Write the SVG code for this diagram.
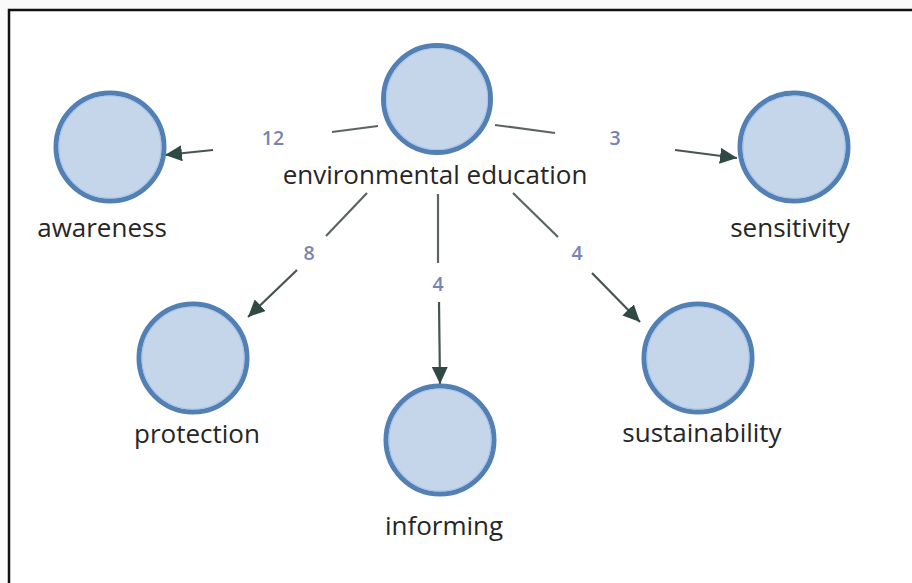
<svg xmlns="http://www.w3.org/2000/svg" width="912" height="583" viewBox="0 0 912 583">
<defs>
<style>
.node{fill:#c6d6ea;stroke:#5380b4;stroke-width:5}
.inner{fill:none;stroke:#a9c6e8;stroke-width:1.2}
.lbl{font-family:"Open Sans","Liberation Sans",sans-serif;font-size:26px;fill:#262626;text-anchor:middle}
.num{font-family:"Open Sans","Liberation Sans",sans-serif;font-size:19.5px;font-weight:600;fill:#7683b5;text-anchor:middle}
.edge{stroke:#5d6363;stroke-width:2.2;fill:none}
.arr{stroke:#4a5352;stroke-width:2.2;fill:none;marker-end:url(#ah)}
</style>
<marker id="ah" markerUnits="userSpaceOnUse" markerWidth="20" markerHeight="16" refX="17" refY="8" orient="auto">
<path d="M0,0 L17,8 L0,16 Z" fill="#2f4a44"/>
</marker>
</defs>
<rect x="0" y="0" width="912" height="583" fill="#fafafa"/>
<rect x="9" y="10" width="920" height="600" fill="#ffffff" stroke="#111111" stroke-width="2.5"/>
<g id="connectors">
<line class="edge" x1="378" y1="126" x2="332" y2="132"/>
<line class="arr" x1="213" y1="150" x2="165" y2="155"/>
<text class="num" x="273" y="145">12</text>
<line class="edge" x1="495" y1="125" x2="555" y2="133"/>
<line class="arr" x1="675" y1="150" x2="737" y2="158"/>
<text class="num" x="615" y="145">3</text>
<line class="edge" x1="367" y1="193" x2="326" y2="236"/>
<line class="arr" x1="297" y1="270" x2="248" y2="317"/>
<text class="num" x="309" y="260">8</text>
<line class="edge" x1="438" y1="194" x2="438" y2="263"/>
<line class="arr" x1="439" y1="302" x2="440" y2="384"/>
<text class="num" x="438" y="291">4</text>
<line class="edge" x1="513" y1="193" x2="558" y2="237"/>
<line class="arr" x1="592" y1="273" x2="640" y2="322"/>
<text class="num" x="577" y="260">4</text>
</g>
<g id="n-environmental-education">
<circle class="node" cx="437" cy="99" r="53.5"/>
<circle class="inner" cx="437" cy="99" r="50.5"/>
<text class="lbl" x="435" y="184">environmental education</text>
</g>
<g id="n-awareness">
<circle class="node" cx="110" cy="147" r="54"/>
<circle class="inner" cx="110" cy="147" r="51"/>
<text class="lbl" x="102" y="237">awareness</text>
</g>
<g id="n-sensitivity">
<circle class="node" cx="794" cy="147" r="54"/>
<circle class="inner" cx="794" cy="147" r="51"/>
<text class="lbl" x="790" y="237">sensitivity</text>
</g>
<g id="n-protection">
<circle class="node" cx="193" cy="358" r="54"/>
<circle class="inner" cx="193" cy="358" r="51"/>
<text class="lbl" x="197" y="443">protection</text>
</g>
<g id="n-informing">
<circle class="node" cx="440" cy="440" r="54"/>
<circle class="inner" cx="440" cy="440" r="51"/>
<text class="lbl" x="444" y="535">informing</text>
</g>
<g id="n-sustainability">
<circle class="node" cx="698" cy="358" r="54"/>
<circle class="inner" cx="698" cy="358" r="51"/>
<text class="lbl" x="702" y="442">sustainability</text>
</g>
</svg>
